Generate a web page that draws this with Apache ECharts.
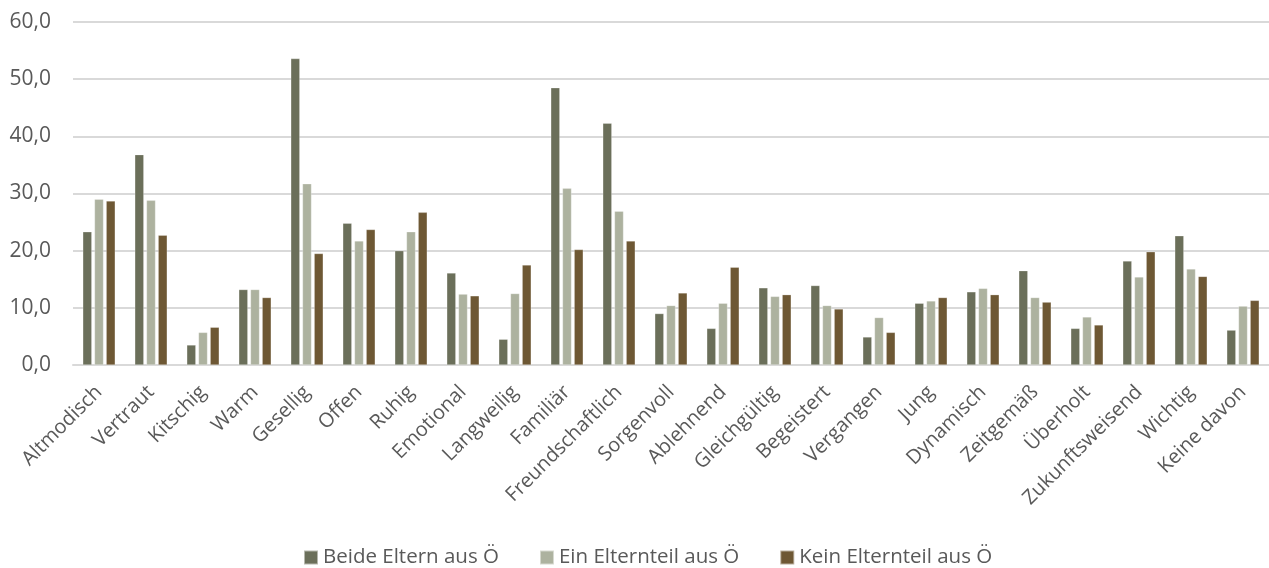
<!DOCTYPE html>
<html><head><meta charset="utf-8">
<script src="https://cdn.jsdelivr.net/npm/echarts@6/dist/echarts.min.js"></script>
<style>html,body{margin:0;padding:0;background:#fff}#c{width:1269px;height:568px}</style>
</head><body><div id="c"></div>
<script>
const categories = ["Altmodisch","Vertraut","Kitschig","Warm","Gesellig","Offen","Ruhig","Emotional","Langweilig","Familiär","Freundschaftlich","Sorgenvoll","Ablehnend","Gleichgültig","Begeistert","Vergangen","Jung","Dynamisch","Zeitgemäß","Überholt","Zukunftsweisend","Wichtig","Keine davon"];
const beide = [23.3,36.8,3.5,13.2,53.6,24.8,20.0,16.1,4.5,48.5,42.3,9.0,6.4,13.5,13.9,4.9,10.8,12.8,16.5,6.4,18.2,22.6,6.1];
const ein   = [29.0,28.8,5.7,13.2,31.7,21.7,23.3,12.4,12.5,30.9,26.9,10.4,10.8,12.0,10.4,8.3,11.2,13.4,11.8,8.4,15.4,16.8,10.3];
const kein  = [28.7,22.7,6.6,11.8,19.5,23.7,26.7,12.1,17.5,20.2,21.7,12.6,17.1,12.3,9.8,5.7,11.8,12.3,11.0,7.0,19.8,15.5,11.3];
const seriesNames = ["Beide Eltern aus Ö","Ein Elternteil aus Ö","Kein Elternteil aus Ö"];
const colors = ["#6b6f5a","#adb29f","#6e5834"];
const font = "'Open Sans', 'Liberation Sans', sans-serif";
const chart = echarts.init(document.getElementById('c'));
const mk = (name, data, color) => ({
  name, type: 'bar', data, barWidth: 9, barGap: '30%',
  itemStyle: { color, borderColor: 'rgba(255,255,255,0.5)', borderWidth: 0.5 }
});
chart.setOption({
  animation: false,
  color: colors,
  textStyle: { fontFamily: font },
  grid: { left: 73, right: -4, top: 22, bottom: 203 },
  legend: {
    top: 547, left: 303, padding: 0, itemWidth: 14, itemHeight: 14, itemGap: 40, icon: 'rect',
    textStyle: { fontSize: 20.5, color: '#595959', fontFamily: font },
    data: seriesNames
  },
  xAxis: {
    type: 'category', data: categories,
    axisLine: { lineStyle: { color: '#d9d9d9', width: 2 } },
    axisTick: { show: false },
    axisLabel: { rotate: 45, interval: 0, fontSize: 20, color: '#595959', margin: 24, fontFamily: font }
  },
  yAxis: {
    type: 'value', min: 0, max: 60, interval: 10,
    axisLine: { show: false }, axisTick: { show: false },
    splitLine: { lineStyle: { color: '#d9d9d9', width: 2 } },
    axisLabel: { fontSize: 21, color: '#595959', margin: 22, fontFamily: font,
      formatter: v => v.toFixed(1).replace('.', ',') }
  },
  series: [mk(seriesNames[0], beide, colors[0]), mk(seriesNames[1], ein, colors[1]), mk(seriesNames[2], kein, colors[2])]
});
</script></body></html>
